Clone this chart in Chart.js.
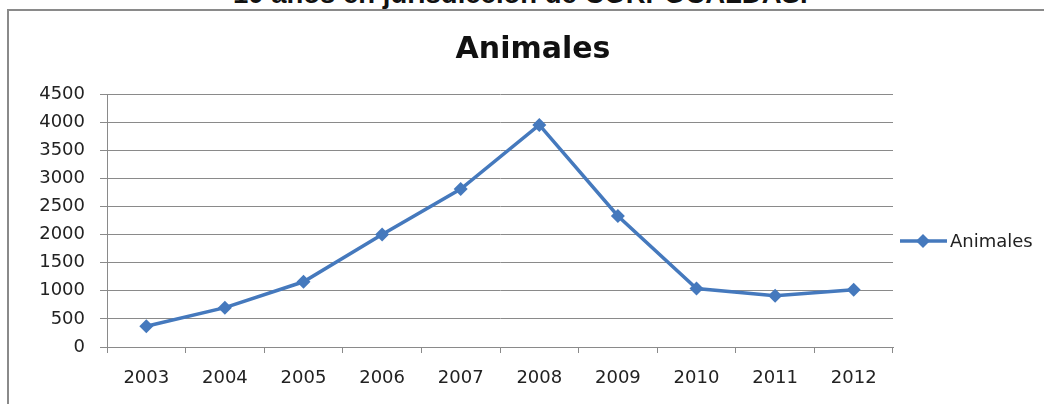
<!DOCTYPE html>
<html>
<head>
<meta charset="utf-8">
<script src="https://cdn.jsdelivr.net/npm/chart.js@4.4.1/dist/chart.umd.min.js"></script>
<style>
  html, body { margin: 0; padding: 0; background: #fff; overflow: hidden; }
  #wrap { position: relative; width: 1044px; height: 404px; overflow: hidden; }
  #frame { position: absolute; left: 7px; top: 9px; width: 1100px; height: 500px;
           border-left: 2px solid #8a8a8a; border-top: 2px solid #8a8a8a; }
  #cut { position: absolute; left: 233px; top: -21px; white-space: nowrap;
         font: bold 27.5px "Liberation Sans", Arial, sans-serif; line-height: 30px; color: #111; }
  #chart { position: absolute; left: 0; top: 0; }
</style>
</head>
<body>
<div id="wrap">
  <div id="cut">10 años en jurisdicción de CORPOCALDAS.</div>
  <div id="frame"></div>
  <canvas id="chart" width="1044" height="404"></canvas>
</div>
<script>
const years = ['2003', '2004', '2005', '2006', '2007', '2008', '2009', '2010', '2011', '2012'];
const animales = [370, 700, 1160, 2000, 2810, 3950, 2330, 1040, 910, 1020];
const yTicks = [0, 500, 1000, 1500, 2000, 2500, 3000, 3500, 4000, 4500];

const BLUE = '#4579bd';
const GRID = '#8a8a8a';
const FONT = '"DejaVu Sans", sans-serif';

// title + legend drawn at fixed spots like the Excel original
const extras = {
  id: 'extras',
  afterDraw(chart) {
    const ctx = chart.ctx;
    ctx.save();
    ctx.fillStyle = '#111';
    ctx.font = 'bold 30px ' + FONT;
    ctx.textAlign = 'center';
    ctx.textBaseline = 'alphabetic';
    ctx.fillText('Animales', 533, 58);

    const ly = 241;
    ctx.strokeStyle = BLUE;
    ctx.lineWidth = 3.5;
    ctx.beginPath();
    ctx.moveTo(900, ly);
    ctx.lineTo(947, ly);
    ctx.stroke();
    ctx.fillStyle = BLUE;
    ctx.beginPath();
    ctx.moveTo(923, ly - 7);
    ctx.lineTo(930, ly);
    ctx.lineTo(923, ly + 7);
    ctx.lineTo(916, ly);
    ctx.closePath();
    ctx.fill();

    ctx.fillStyle = '#222';
    ctx.font = '18px ' + FONT;
    ctx.textAlign = 'left';
    ctx.textBaseline = 'middle';
    ctx.fillText('Animales', 950, ly + 1);
    ctx.restore();
  }
};

new Chart(document.getElementById('chart'), {
  type: 'line',
  data: {
    labels: years,
    datasets: [{
      label: 'Animales',
      data: animales,
      borderColor: BLUE,
      backgroundColor: BLUE,
      borderWidth: 3.5,
      tension: 0,
      pointStyle: 'rectRot',
      pointRadius: 7,
      pointHoverRadius: 7,
      pointBorderWidth: 0,
    }]
  },
  options: {
    responsive: false,
    animation: false,
    events: [],
    layout: { padding: { left: 0, right: 151, top: 94, bottom: 0 } },
    plugins: {
      legend: { display: false },
      title: { display: false },
      tooltip: { enabled: false }
    },
    scales: {
      x: {
        offset: true,
        afterFit: s => { s.height = 57; },
        grid: { offset: true, drawOnChartArea: false, drawTicks: true, tickLength: 6, color: GRID },
        border: { color: GRID, width: 1 },
        ticks: { color: '#222', font: { family: FONT, size: 18 }, padding: 15, maxRotation: 0 }
      },
      y: {
        min: 0,
        max: 4500,
        afterFit: s => { s.width = 107; },
        afterBuildTicks: s => { s.ticks = yTicks.map(v => ({ value: v })); },
        grid: { color: GRID, tickLength: 7 },
        border: { color: GRID, width: 1 },
        ticks: {
          color: '#222',
          font: { family: FONT, size: 18 },
          padding: 15,
          callback: v => String(v)
        }
      }
    }
  },
  plugins: [extras]
});
</script>
</body>
</html>
